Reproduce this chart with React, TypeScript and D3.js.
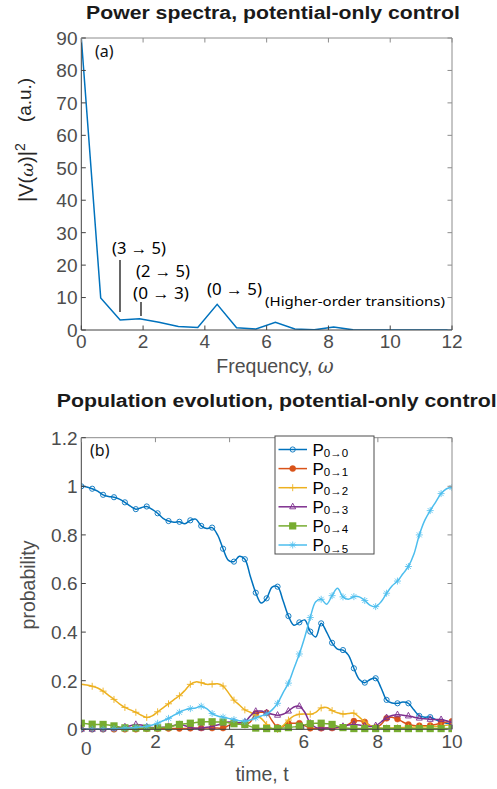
import React from 'react';
import * as d3 from 'd3';

// ---------- Panel (a): power spectrum ----------
const omega = [0, 0.628, 1.257, 1.885, 2.513, 3.142, 3.770, 4.398, 5.027, 5.655, 6.283, 6.912, 7.540, 8.168, 8.796, 9.425, 10.053, 10.681, 11.310, 11.938, 12.566];
const power = [90, 9.9, 3.1, 3.5, 2.4, 1.1, 0.8, 7.9, 0.7, 0.3, 2.4, 0.3, 0.05, 0.9, 0.05, 0.03, 0.03, 0.02, 0.02, 0.02, 0.02];
const freqTicks = [0, 2, 4, 6, 8, 10, 12];
const powerTicks = [0, 10, 20, 30, 40, 50, 60, 70, 80, 90];

// ---------- Panel (b): population evolution ----------
const time = [0, 0.147, 0.294, 0.441, 0.588, 0.735, 0.882, 1.029, 1.176, 1.324, 1.471, 1.618, 1.765, 1.912, 2.059, 2.206, 2.353, 2.5, 2.647, 2.794, 2.941, 3.088, 3.235, 3.382, 3.529, 3.676, 3.824, 3.971, 4.118, 4.265, 4.412, 4.559, 4.706, 4.853, 5, 5.147, 5.294, 5.441, 5.588, 5.735, 5.882, 6.029, 6.176, 6.324, 6.471, 6.618, 6.765, 6.912, 7.059, 7.206, 7.353, 7.5, 7.647, 7.794, 7.941, 8.088, 8.235, 8.382, 8.529, 8.676, 8.824, 8.971, 9.118, 9.265, 9.412, 9.559, 9.706, 9.853, 10];

const P00 = [1.0, 0.997, 0.99, 0.98, 0.965, 0.958, 0.955, 0.947, 0.934, 0.918, 0.906, 0.912, 0.917, 0.905, 0.889, 0.868, 0.857, 0.852, 0.854, 0.846, 0.86, 0.865, 0.837, 0.826, 0.83, 0.80, 0.743, 0.695, 0.69, 0.712, 0.70, 0.63, 0.562, 0.52, 0.539, 0.585, 0.587, 0.53, 0.466, 0.428, 0.44, 0.45, 0.402, 0.38, 0.436, 0.40, 0.356, 0.33, 0.326, 0.305, 0.251, 0.205, 0.192, 0.205, 0.21, 0.17, 0.121, 0.108, 0.107, 0.112, 0.107, 0.08, 0.055, 0.05, 0.05, 0.04, 0.031, 0.025, 0.022];
const P01 = [0.0, 0.0, 0.0, 0.0, 0.0, 0.0, 0.0, 0.0, 0.0, 0.0, 0.0, 0.001, 0.002, 0.002, 0.002, 0.002, 0.003, 0.003, 0.003, 0.003, 0.004, 0.004, 0.005, 0.005, 0.005, 0.005, 0.005, 0.015, 0.025, 0.022, 0.018, 0.03, 0.065, 0.07, 0.068, 0.035, 0.008, 0.012, 0.024, 0.025, 0.025, 0.015, 0.004, 0.003, 0.004, 0.005, 0.005, 0.006, 0.008, 0.02, 0.034, 0.035, 0.03, 0.015, 0.007, 0.02, 0.045, 0.05, 0.042, 0.03, 0.02, 0.016, 0.015, 0.015, 0.016, 0.02, 0.026, 0.03, 0.033];
const P02 = [0.185, 0.182, 0.177, 0.17, 0.157, 0.14, 0.123, 0.105, 0.09, 0.08, 0.07, 0.058, 0.049, 0.055, 0.072, 0.088, 0.105, 0.122, 0.138, 0.16, 0.185, 0.195, 0.192, 0.185, 0.186, 0.187, 0.178, 0.15, 0.12, 0.1, 0.08, 0.07, 0.058, 0.045, 0.02, 0.003, 0.0, 0.015, 0.038, 0.055, 0.062, 0.063, 0.062, 0.07, 0.088, 0.09, 0.077, 0.068, 0.063, 0.065, 0.066, 0.05, 0.03, 0.015, 0.008, 0.005, 0.005, 0.005, 0.006, 0.007, 0.008, 0.009, 0.01, 0.01, 0.011, 0.012, 0.014, 0.017, 0.02];
const P03 = [0.0, 0.0, 0.0, 0.0, 0.001, 0.002, 0.004, 0.006, 0.01, 0.015, 0.02, 0.018, 0.01, 0.007, 0.006, 0.008, 0.012, 0.016, 0.02, 0.015, 0.007, 0.004, 0.005, 0.008, 0.012, 0.018, 0.025, 0.03, 0.03, 0.027, 0.03, 0.055, 0.074, 0.075, 0.068, 0.062, 0.058, 0.062, 0.075, 0.092, 0.095, 0.07, 0.025, 0.008, 0.005, 0.005, 0.006, 0.008, 0.012, 0.018, 0.02, 0.018, 0.014, 0.012, 0.015, 0.03, 0.048, 0.057, 0.06, 0.058, 0.055, 0.05, 0.046, 0.043, 0.041, 0.04, 0.04, 0.035, 0.028];
const P04 = [0.025, 0.023, 0.021, 0.02, 0.02, 0.018, 0.014, 0.01, 0.006, 0.005, 0.005, 0.005, 0.005, 0.005, 0.006, 0.007, 0.01, 0.015, 0.02, 0.023, 0.025, 0.028, 0.03, 0.031, 0.031, 0.03, 0.03, 0.027, 0.023, 0.021, 0.02, 0.012, 0.005, 0.003, 0.003, 0.003, 0.003, 0.005, 0.007, 0.01, 0.013, 0.018, 0.023, 0.025, 0.025, 0.023, 0.02, 0.013, 0.007, 0.004, 0.003, 0.003, 0.003, 0.003, 0.003, 0.003, 0.003, 0.003, 0.003, 0.003, 0.003, 0.003, 0.003, 0.003, 0.003, 0.003, 0.003, 0.003, 0.003];
const P05 = [0.0, 0.0, 0.0, 0.0, 0.0, 0.0, 0.002, 0.003, 0.005, 0.005, 0.008, 0.01, 0.012, 0.018, 0.025, 0.035, 0.045, 0.058, 0.07, 0.08, 0.085, 0.088, 0.095, 0.085, 0.065, 0.055, 0.05, 0.045, 0.04, 0.035, 0.033, 0.038, 0.047, 0.055, 0.063, 0.08, 0.107, 0.15, 0.19, 0.25, 0.31, 0.38, 0.46, 0.525, 0.535, 0.515, 0.55, 0.58, 0.545, 0.535, 0.546, 0.545, 0.53, 0.51, 0.505, 0.525, 0.56, 0.59, 0.61, 0.64, 0.67, 0.72, 0.8, 0.86, 0.9, 0.935, 0.97, 0.99, 0.995];

const seriesValues = [P00, P01, P02, P03, P04, P05];
const seriesLabels = ['0\u21920', '0\u21921', '0\u21922', '0\u21923', '0\u21924', '0\u21925'];
const seriesColors = ['#0072BD', '#D95319', '#EDB120', '#7E2F8E', '#77AC30', '#4DBEEE'];
const seriesMarkers = ['circle', 'dot', 'plus', 'triangle', 'square', 'star'];
const timeTicks = [0, 2, 4, 6, 8, 10];
const probTicks = [0, 0.2, 0.4, 0.6, 0.8, 1, 1.2];
const probTickLabels = ['0', '0.2', '0.4', '0.6', '0.8', '1', '1.2'];

const TICK_FONT = "'Liberation Sans', Arial, sans-serif";
const ANN_FONT = "'Noto Sans', 'Open Sans', sans-serif";

function Marker({ type, x, y, color }: { type: string; x: number; y: number; color: string }) {
  switch (type) {
    case 'circle':
      return <circle cx={x} cy={y} r={2.6} fill="none" stroke={color} strokeWidth={0.9} />;
    case 'dot':
      return <circle cx={x} cy={y} r={3} fill={color} stroke={color} strokeWidth={0.5} />;
    case 'plus':
      return (
        <g stroke={color} strokeWidth={0.9}>
          <line x1={x - 3.5} x2={x + 3.5} y1={y} y2={y} />
          <line x1={x} x2={x} y1={y - 3.5} y2={y + 3.5} />
        </g>
      );
    case 'triangle':
      return <path d={`M${x},${y - 3.6}L${x + 3},${y + 2}L${x - 3},${y + 2}Z`} fill="none" stroke={color} strokeWidth={0.9} />;
    case 'square':
      return <rect x={x - 3.6} y={y - 3.6} width={7.2} height={7.2} fill={color} />;
    case 'star':
      return (
        <g stroke={color} strokeWidth={0.8}>
          <line x1={x - 3.5} x2={x + 3.5} y1={y} y2={y} />
          <line x1={x} x2={x} y1={y - 3.5} y2={y + 3.5} />
          <line x1={x - 2.5} x2={x + 2.5} y1={y - 2.5} y2={y + 2.5} />
          <line x1={x - 2.5} x2={x + 2.5} y1={y + 2.5} y2={y - 2.5} />
        </g>
      );
    default:
      return null;
  }
}

function Box({ x0, x1, y0, y1 }: { x0: number; x1: number; y0: number; y1: number }) {
  return (
    <g fill="none" strokeWidth={1}>
      <line x1={x0} x2={x1} y1={y0} y2={y0} stroke="#8c8c8c" />
      <line x1={x1} x2={x1} y1={y0} y2={y1} stroke="#8c8c8c" />
      <line x1={x0} x2={x0} y1={y0} y2={y1} stroke="#404040" />
      <line x1={x0} x2={x1} y1={y1} y2={y1} stroke="#404040" />
    </g>
  );
}

export default function App() {
  const W = 497, H = 789;
  // panel a
  const ax0 = 81.3, ax1 = 452, ay0 = 38, ay1 = 330;
  const xA = d3.scaleLinear().domain([0, 12]).range([ax0, ax1]);
  const yA = d3.scaleLinear().domain([0, 90]).range([ay1, ay0]);
  const lineA = d3.line<number>().x((_, i) => xA(omega[i])).y((d) => yA(d));

  // panel b
  const bx0 = 81.3, bx1 = 452, by0 = 437.7, by1 = 729.3;
  const xB = d3.scaleLinear().domain([0, 10]).range([bx0, bx1]);
  const yB = d3.scaleLinear().domain([0, 1.2]).range([by1, by0]);
  const lineB = d3.line<number>().x((_, i) => xB(time[i])).y((d) => yB(d)).curve(d3.curveCatmullRom.alpha(0.5));

  const tl = 4.5;

  const legX = 275, legY = 436, legW = 99, legH = 118;

  return (
    <svg width={W} height={H} style={{ position: 'absolute', left: 0, top: 0, background: '#fff' }}>
      <defs>
        <clipPath id="clipA"><rect x={ax0} y={ay0} width={ax1 - ax0} height={ay1 - ay0} /></clipPath>
        <clipPath id="clipB"><rect x={bx0} y={by0 - 2} width={bx1 - bx0} height={by1 - by0 + 6} /></clipPath>
      </defs>
      <rect x={0} y={0} width={W} height={H} fill="#fff" />

      {/* ---------- Panel (a) ---------- */}
      <text x={273} y={19.3} textAnchor="middle" fontFamily={TICK_FONT} fontWeight="bold" fontSize={17.5} fill="#1a1a1a" textLength={374} lengthAdjust="spacingAndGlyphs">
        Power spectra, potential-only control
      </text>
      <g clipPath="url(#clipA)">
        <path d={lineA(power) || ''} fill="none" stroke="#0072BD" strokeWidth={1.5} />
      </g>
      <Box x0={ax0} x1={ax1} y0={ay0} y1={ay1} />
      {powerTicks.map((t) => (
        <g key={'pa' + t}>
          <line x1={ax0} x2={ax0 + tl} y1={yA(t)} y2={yA(t)} stroke="#404040" />
          <line x1={ax1} x2={ax1 - tl} y1={yA(t)} y2={yA(t)} stroke="#8c8c8c" />
          <text x={77.5} y={yA(t)} dy="0.36em" textAnchor="end" fontFamily={TICK_FONT} fontSize={19} fill="#4d4d4d">{t}</text>
        </g>
      ))}
      {freqTicks.map((t) => (
        <g key={'fa' + t}>
          <line x1={xA(t)} x2={xA(t)} y1={ay1} y2={ay1 - tl} stroke="#404040" />
          <line x1={xA(t)} x2={xA(t)} y1={ay0} y2={ay0 + tl} stroke="#8c8c8c" />
          <text x={xA(t)} y={348.3} textAnchor="middle" fontFamily={TICK_FONT} fontSize={19} fill="#4d4d4d">{t}</text>
        </g>
      ))}
      <text x={275} y={373} textAnchor="middle" fontFamily={TICK_FONT} fontSize={19.5} fill="#4d4d4d">
        Frequency, <tspan fontStyle="italic" fontFamily="'DejaVu Serif', serif">ω</tspan>
      </text>
      <text transform="translate(33,202) rotate(-90)" textAnchor="start" fontFamily={TICK_FONT} fontSize={20} fill="#262626">
        |V(<tspan fontStyle="italic" fontFamily="'DejaVu Serif', serif" fontSize={17}>ω</tspan>)|<tspan dy={-8} fontSize={14}>2</tspan>
      </text>
      <text transform="translate(31,100) rotate(-90)" textAnchor="middle" fontFamily={TICK_FONT} fontSize={19} fill="#262626">(a.u.)</text>
      <text x={95} y={57} fontFamily={ANN_FONT} fontSize={16} fill="#111">(a)</text>

      {/* annotations */}
      <g fontFamily={ANN_FONT} fill="#000">
        <text x={112} y={253.5} fontSize={16} textLength={54} lengthAdjust="spacingAndGlyphs">(3 → 5)</text>
        <text x={136} y={276.5} fontSize={16} textLength={54} lengthAdjust="spacingAndGlyphs">(2 → 5)</text>
        <text x={133} y={298.5} fontSize={16} textLength={56} lengthAdjust="spacingAndGlyphs">(0 → 3)</text>
        <text x={207} y={294.5} fontSize={16} textLength={55} lengthAdjust="spacingAndGlyphs">(0 → 5)</text>
        <text x={265} y={305.5} fontSize={13} textLength={180} lengthAdjust="spacingAndGlyphs">(Higher-order transitions)</text>
      </g>
      <line x1={120} x2={120} y1={260} y2={312} stroke="#000" strokeWidth={1.2} />
      <line x1={141} x2={141} y1={302} y2={316} stroke="#000" strokeWidth={1.2} />

      {/* ---------- Panel (b) ---------- */}
      <text x={276.7} y={407} textAnchor="middle" fontFamily={TICK_FONT} fontWeight="bold" fontSize={17.5} fill="#1a1a1a" textLength={440} lengthAdjust="spacingAndGlyphs">
        Population evolution, potential-only control
      </text>
      <g clipPath="url(#clipB)">
        {seriesValues.map((vals, s) => (
          <g key={'s' + s}>
            <path d={lineB(vals) || ''} fill="none" stroke={seriesColors[s]} strokeWidth={1.5} />
            {vals.map((v, i) => (i % 2 === 0 ? <Marker key={i} type={seriesMarkers[s]} x={xB(time[i])} y={yB(v)} color={seriesColors[s]} /> : null))}
          </g>
        ))}
      </g>
      <Box x0={bx0} x1={bx1} y0={by0} y1={by1} />
      {probTicks.map((t, i) => (
        <g key={'pb' + t}>
          <line x1={bx0} x2={bx0 + tl} y1={yB(t)} y2={yB(t)} stroke="#404040" />
          <line x1={bx1} x2={bx1 - tl} y1={yB(t)} y2={yB(t)} stroke="#8c8c8c" />
          <text x={77.5} y={yB(t)} dy="0.36em" textAnchor="end" fontFamily={TICK_FONT} fontSize={19} fill="#4d4d4d">{probTickLabels[i]}</text>
        </g>
      ))}
      {timeTicks.map((t, i) => (
        <g key={'tb' + t}>
          <line x1={xB(t)} x2={xB(t)} y1={by1} y2={by1 - tl} stroke="#404040" />
          <line x1={xB(t)} x2={xB(t)} y1={by0} y2={by0 + tl} stroke="#8c8c8c" />
          <text x={xB(t) + (i === 0 ? 5 : 0)} y={i === 0 ? 755 : 748.3} textAnchor="middle" fontFamily={TICK_FONT} fontSize={19} fill="#4d4d4d">{t}</text>
        </g>
      ))}
      <text x={262} y={781} textAnchor="middle" fontFamily={TICK_FONT} fontSize={19.5} fill="#4d4d4d">time, t</text>
      <text transform="translate(35,585) rotate(-90)" textAnchor="middle" fontFamily={TICK_FONT} fontSize={19.5} fill="#4d4d4d">probability</text>
      <text x={90} y={456} fontFamily={ANN_FONT} fontSize={16} fill="#111">(b)</text>

      {/* legend */}
      <rect x={legX} y={legY} width={legW} height={legH} fill="#fff" stroke="#4d4d4d" strokeWidth={1} />
      {seriesLabels.map((lab, s) => {
        const ly = 449.5 + s * 19.1;
        return (
          <g key={'lg' + s}>
            <line x1={278.5} x2={307} y1={ly} y2={ly} stroke={seriesColors[s]} strokeWidth={1.5} />
            <Marker type={seriesMarkers[s]} x={292.7} y={ly} color={seriesColors[s]} />
            <text x={312.5} y={ly + 6} fontFamily={TICK_FONT} fontSize={17} fill="#000">
              P<tspan fontSize={11.5} dy={1.5}>{lab}</tspan>
            </text>
          </g>
        );
      })}
    </svg>
  );
}
